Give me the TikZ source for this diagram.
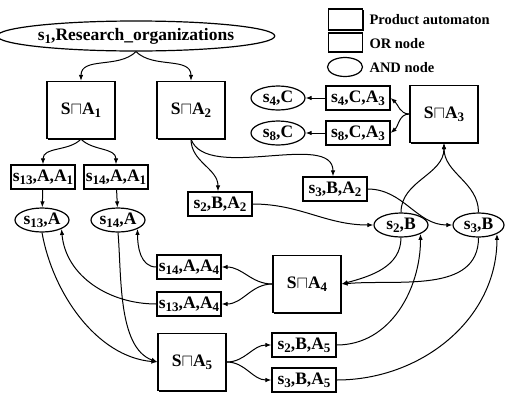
\documentclass[tikz,border=0pt]{standalone}
\usepackage{fontspec}
\setmainfont{Liberation Serif}
\usetikzlibrary{arrows.meta,shapes.geometric,shadows}
\newcommand\sbs[1]{\raisebox{-0.4ex}{\fontsize{13}{13}\selectfont #1}}
\newcommand\SA[1]{S$\sqcap$A\sbs{#1}}
\tikzset{
 lab/.style={font=\fontsize{17.5}{19}\selectfont\bfseries},
 ornode/.style={draw, line width=1.2pt, minimum width=64pt, minimum height=24pt, inner sep=0.5pt, lab},
 prodnode/.style={draw, line width=1.3pt, minimum width=68pt, minimum height=57pt, fill=white,
   drop shadow={shadow xshift=1.3pt, shadow yshift=-1.3pt, opacity=1, fill=black}, lab},
 andnode/.style={ellipse, draw, line width=1.2pt, minimum width=54pt, minimum height=24pt, inner sep=0pt, lab},
 legtext/.style={anchor=west, font=\fontsize{14.5}{16}\selectfont\bfseries},
 conn/.style={line width=1pt, -{Latex[length=6pt,width=4.5pt]}},
}
\begin{document}
\begin{tikzpicture}[x=1pt,y=-1pt]
\useasboundingbox[fill=white] (0,0) rectangle (505,394);
% legend
\node[prodnode, minimum width=34pt, minimum height=21pt] (lg1) at (345.5,19.5) {};
\node[legtext] (lt1) at (366,20) {Product automaton};
\node[ornode, minimum width=34pt, minimum height=19pt] (lg2) at (345.5,42.5) {};
\node[legtext] (lt2) at (366,44) {OR node};
\node[andnode, minimum width=35pt, minimum height=19pt] (lg3) at (345,67) {};
\node[legtext] (lt3) at (366,68) {AND node};
% nodes
\node[andnode, minimum width=223pt, minimum height=30pt] (s1) at (136,36) {s\sbs{1},Research\_organizations};
\node[prodnode] (SA1) at (81,110) {\SA{1}};
\node[prodnode] (SA2) at (191,110) {\SA{2}};
\node[prodnode] (SA3) at (444,114) {\SA{3}};
\node[prodnode] (SA4) at (307,284) {\SA{4}};
\node[prodnode] (SA5) at (192,362) {\SA{5}};
\node[ornode] (b13A1) at (43,177) {s\sbs{13},A,A\sbs{1}};
\node[ornode] (b14A1) at (116,177) {s\sbs{14},A,A\sbs{1}};
\node[ornode] (b2A2) at (220,204) {s\sbs{2},B,A\sbs{2}};
\node[ornode] (b3A2) at (335,189) {s\sbs{3},B,A\sbs{2}};
\node[ornode] (b4A3) at (358,98) {s\sbs{4},C,A\sbs{3}};
\node[ornode] (b8A3) at (358,133) {s\sbs{8},C,A\sbs{3}};
\node[ornode] (b14A4) at (189,267) {s\sbs{14},A,A\sbs{4}};
\node[ornode] (b13A4) at (189,304) {s\sbs{13},A,A\sbs{4}};
\node[ornode] (b2A5) at (304,345) {s\sbs{2},B,A\sbs{5}};
\node[ornode] (b3A5) at (304,380) {s\sbs{3},B,A\sbs{5}};
\node[andnode] (e13) at (42,220) {s\sbs{13},A};
\node[andnode] (e14) at (118,220) {s\sbs{14},A};
\node[andnode] (e4) at (278,98) {s\sbs{4},C};
\node[andnode] (e8) at (278,133) {s\sbs{8},C};
\node[andnode] (e2) at (401,225) {s\sbs{2},B};
\node[andnode, minimum width=51pt] (e3) at (478.5,225) {s\sbs{3},B};
% connectors
\draw[conn] (s1.south) to[out=-135,in=90] (SA1.north);
\draw[conn] (s1.south) to[out=-45,in=90] (SA2.north);
\draw[conn] (SA1.south) to[out=-135,in=90] (b13A1.north);
\draw[conn] (SA1.south) to[out=-45,in=90] (b14A1.north);
\draw[conn] (b13A1) -- (e13);
\draw[conn] (b14A1) -- (e14);
\draw[conn] (SA2.south) to[out=-90,in=90] ([xshift=-2pt]b2A2.north);
\draw[conn] (SA2.south) to[out=-70,in=90,looseness=0.8] ([xshift=-2pt]b3A2.north);
\draw[conn] (b2A2.east) to[out=0,in=180] (e2.west);
\draw[conn] (b3A2.east) to[out=0,in=180] (e3.west);
\draw[conn] (e2.north) to[out=90,in=-90] (SA3.south);
\draw[conn] (e3.north) to[out=90,in=-90] (SA3.south);
\draw[conn] (SA3.west) to[out=180,in=-40] (b4A3.east);
\draw[conn] (SA3.west) to[out=180,in=40] (b8A3.east);
\draw[conn] (b4A3) -- (e4);
\draw[conn] (b8A3) -- (e8);
\draw[conn] (e2.south) to[out=-90,in=15] (SA4.east);
\draw[conn] (e3.south) to[out=-90,in=5] (SA4.east);
\draw[conn] (SA4.west) to[out=180,in=0] (b14A4.east);
\draw[conn] (SA4.west) to[out=180,in=0] (b13A4.east);
\draw[conn] (b14A4.west) to[out=180,in=-90] (e14.south east);
\draw[conn] (b13A4.west) to[out=180,in=-85] (e13.south east);
\draw[conn] (e13.south) to[out=-80,in=175,looseness=0.9] (SA5.west);
\draw[conn] (e14.south) to[out=-85,in=160,looseness=0.8] (SA5.west);
\draw[conn] (SA5.east) to[out=0,in=180] (b2A5.west);
\draw[conn] (SA5.east) to[out=0,in=180] (b3A5.west);
\draw[conn] (b2A5.east) to[out=0,in=-90] (e2.south east);
\draw[conn] (b3A5.east) to[out=0,in=-90] (e3.south east);
\end{tikzpicture}
\end{document}
